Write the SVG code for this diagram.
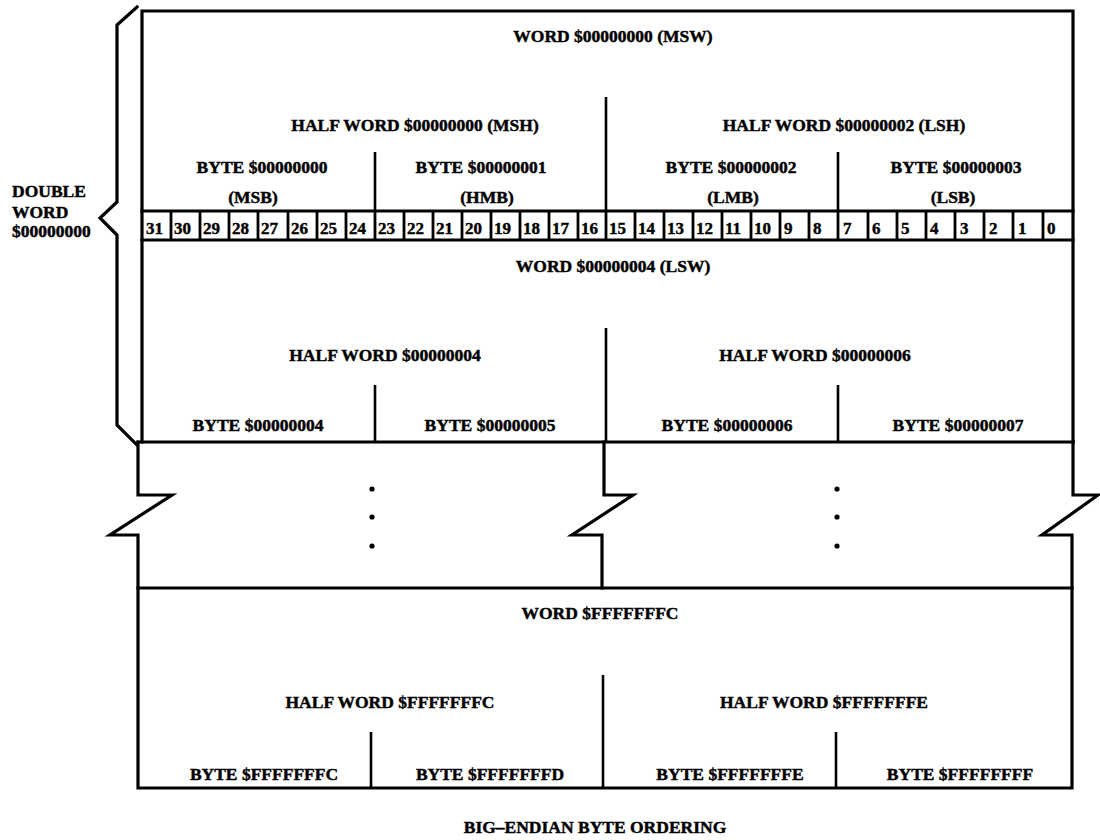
<svg xmlns="http://www.w3.org/2000/svg" width="1100" height="840" viewBox="0 0 1100 840">
<style>
.t{font-family:"Liberation Serif","DejaVu Serif",serif;font-weight:bold;font-size:17.5px;fill:#000;stroke:#000;stroke-width:0.45;text-anchor:middle}
.l{font-family:"Liberation Serif","DejaVu Serif",serif;font-weight:bold;font-size:17.5px;fill:#000;stroke:#000;stroke-width:0.45}
.b{font-family:"Liberation Serif","DejaVu Serif",serif;font-weight:bold;font-size:17px;fill:#000;stroke:#000;stroke-width:0.4}
.k{fill:none;stroke:#000;stroke-width:3.2;stroke-linejoin:miter;stroke-linecap:square}
.d{fill:none;stroke:#000;stroke-width:2.6}
.s{fill:none;stroke:#000;stroke-width:2.8}
</style>
<rect width="1100" height="840" fill="#fff"/>

<g id="brace">
<path class="k" d="M137,7 L117,25 V202 L100,218 L117,235 V425 L137,445"/>
<text class="l" x="12" y="197">DOUBLE</text>
<text class="l" x="12" y="218">WORD</text>
<text class="l" x="12" y="237">$00000000</text>
</g>

<g id="word-00000000">
<path class="k" d="M142,11 H1073 V442 M142,11 V442"/>
<line class="d" x1="606" y1="97" x2="606" y2="211"/>
<line class="d" x1="375" y1="152" x2="375" y2="211"/>
<line class="d" x1="838" y1="152" x2="838" y2="211"/>
<text class="t" x="613" y="42">WORD $00000000 (MSW)</text>
<text class="t" x="415" y="131">HALF WORD $00000000 (MSH)</text>
<text class="t" x="844" y="131">HALF WORD $00000002 (LSH)</text>
<text class="t" x="262" y="173">BYTE $00000000</text>
<text class="t" x="253" y="203">(MSB)</text>
<text class="t" x="481" y="173">BYTE $00000001</text>
<text class="t" x="487" y="203">(HMB)</text>
<text class="t" x="731" y="173">BYTE $00000002</text>
<text class="t" x="733" y="203">(LMB)</text>
<text class="t" x="956" y="173">BYTE $00000003</text>
<text class="t" x="953" y="203">(LSB)</text>
</g>

<g id="bits">
<line class="k" x1="142" y1="211" x2="1073" y2="211"/>
<line class="k" x1="142" y1="240" x2="1073" y2="240"/>
<path class="s" d="M171,211V240 M200,211V240 M229,211V240 M258,211V240 M288,211V240 M317,211V240 M346,211V240 M375,211V240 M404,211V240 M433,211V240 M462,211V240 M491,211V240 M520,211V240 M549,211V240 M578,211V240 M606,211V240 M635,211V240 M664,211V240 M693,211V240 M722,211V240 M751,211V240 M780,211V240 M809,211V240 M838,211V240 M868,211V240 M897,211V240 M926,211V240 M955,211V240 M984,211V240 M1013,211V240 M1043,211V240"/>
<text class="b" x="146" y="234">31</text>
<text class="b" x="174" y="234">30</text>
<text class="b" x="203" y="234">29</text>
<text class="b" x="232" y="234">28</text>
<text class="b" x="261" y="234">27</text>
<text class="b" x="291" y="234">26</text>
<text class="b" x="320" y="234">25</text>
<text class="b" x="349" y="234">24</text>
<text class="b" x="378" y="234">23</text>
<text class="b" x="407" y="234">22</text>
<text class="b" x="436" y="234">21</text>
<text class="b" x="465" y="234">20</text>
<text class="b" x="494" y="234">19</text>
<text class="b" x="523" y="234">18</text>
<text class="b" x="552" y="234">17</text>
<text class="b" x="581" y="234">16</text>
<text class="b" x="609" y="234">15</text>
<text class="b" x="638" y="234">14</text>
<text class="b" x="667" y="234">13</text>
<text class="b" x="696" y="234">12</text>
<text class="b" x="725" y="234">11</text>
<text class="b" x="754" y="234">10</text>
<text class="b" x="784" y="234">9</text>
<text class="b" x="813" y="234">8</text>
<text class="b" x="843" y="234">7</text>
<text class="b" x="872" y="234">6</text>
<text class="b" x="901" y="234">5</text>
<text class="b" x="930" y="234">4</text>
<text class="b" x="960" y="234">3</text>
<text class="b" x="989" y="234">2</text>
<text class="b" x="1018" y="234">1</text>
<text class="b" x="1047" y="234">0</text>
</g>

<g id="word-00000004">
<line class="d" x1="606" y1="328" x2="606" y2="442"/>
<line class="d" x1="375" y1="385" x2="375" y2="442"/>
<line class="d" x1="838" y1="385" x2="838" y2="442"/>
<text class="t" x="613" y="272">WORD $00000004 (LSW)</text>
<text class="t" x="385" y="361">HALF WORD $00000004</text>
<text class="t" x="815" y="361">HALF WORD $00000006</text>
<text class="t" x="258" y="431">BYTE $00000004</text>
<text class="t" x="490" y="431">BYTE $00000005</text>
<text class="t" x="727" y="431">BYTE $00000006</text>
<text class="t" x="958" y="431">BYTE $00000007</text>
</g>

<g id="break">
<line class="k" x1="138" y1="442" x2="1073" y2="442"/>
<path class="k" d="M138,442 V495 H172 L110,535 H138 V588"/>
<path class="k" d="M604,442 V495 H633 L572,535 H602 V588"/>
<path class="k" d="M1073,442 V495 H1098 L1042,535 H1072 V588"/>
<circle cx="372" cy="489" r="2.6"/>
<circle cx="372" cy="517" r="2.6"/>
<circle cx="372" cy="546" r="2.6"/>
<circle cx="837" cy="489" r="2.6"/>
<circle cx="837" cy="517" r="2.6"/>
<circle cx="837" cy="546" r="2.6"/>
</g>

<g id="word-FFFFFFFC">
<path class="k" d="M138,588 H1072 V788 H138 Z"/>
<line class="d" x1="603" y1="675" x2="603" y2="788"/>
<line class="d" x1="371" y1="732" x2="371" y2="788"/>
<line class="d" x1="836" y1="732" x2="836" y2="788"/>
<text class="t" x="600" y="619">WORD $FFFFFFFC</text>
<text class="t" x="390" y="708">HALF WORD $FFFFFFFC</text>
<text class="t" x="824" y="708">HALF WORD $FFFFFFFE</text>
<text class="t" x="264" y="780">BYTE $FFFFFFFC</text>
<text class="t" x="490" y="780">BYTE $FFFFFFFD</text>
<text class="t" x="730" y="780">BYTE $FFFFFFFE</text>
<text class="t" x="960" y="780">BYTE $FFFFFFFF</text>
</g>

<g id="title">
<text class="t" x="595" y="833">BIG–ENDIAN BYTE ORDERING</text>
</g>
</svg>
